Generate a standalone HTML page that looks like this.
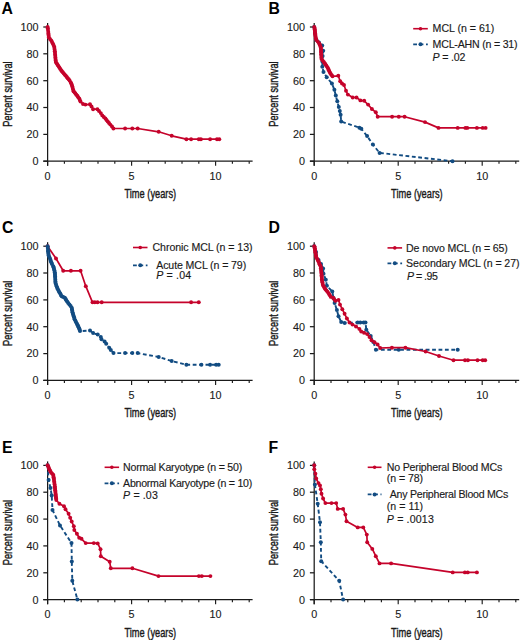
<!DOCTYPE html>
<html><head><meta charset="utf-8"><style>
html,body{margin:0;padding:0;background:#fff;overflow:hidden;}
svg{display:block;}
.tk{font-family:"Liberation Sans",sans-serif;font-size:10.8px;fill:#1a1a1a;stroke:#1a1a1a;stroke-width:0.12px;}
.ti{font-family:"Liberation Sans",sans-serif;font-size:13px;fill:#1a1a1a;stroke:#1a1a1a;stroke-width:0.4px;}
.lg{font-family:"Liberation Sans",sans-serif;font-size:10.6px;fill:#1a1a1a;stroke:#1a1a1a;stroke-width:0.15px;}
.pl{font-family:"Liberation Sans",sans-serif;font-size:15.8px;font-weight:bold;fill:#000;}
</style></head><body>
<svg width="520" height="640" viewBox="0 0 520 640">
<rect width="520" height="640" fill="#fff"/>
<line x1="47.6" y1="23.0" x2="47.6" y2="165.8" stroke="#1a1a1a" stroke-width="1.25"/>
<line x1="43.3" y1="161.2" x2="252.6" y2="161.2" stroke="#1a1a1a" stroke-width="1.25"/>
<line x1="43.3" y1="161.2" x2="47.6" y2="161.2" stroke="#1a1a1a" stroke-width="1.25"/>
<text x="38.5" y="165.0" class="tk" text-anchor="end">0</text>
<line x1="43.3" y1="134.4" x2="47.6" y2="134.4" stroke="#1a1a1a" stroke-width="1.25"/>
<text x="38.5" y="138.2" class="tk" text-anchor="end">20</text>
<line x1="43.3" y1="107.5" x2="47.6" y2="107.5" stroke="#1a1a1a" stroke-width="1.25"/>
<text x="38.5" y="111.4" class="tk" text-anchor="end">40</text>
<line x1="43.3" y1="80.7" x2="47.6" y2="80.7" stroke="#1a1a1a" stroke-width="1.25"/>
<text x="38.5" y="84.5" class="tk" text-anchor="end">60</text>
<line x1="43.3" y1="53.8" x2="47.6" y2="53.8" stroke="#1a1a1a" stroke-width="1.25"/>
<text x="38.5" y="57.7" class="tk" text-anchor="end">80</text>
<line x1="43.3" y1="27.0" x2="47.6" y2="27.0" stroke="#1a1a1a" stroke-width="1.25"/>
<text x="38.5" y="30.8" class="tk" text-anchor="end">100</text>
<line x1="47.6" y1="161.2" x2="47.6" y2="165.8" stroke="#1a1a1a" stroke-width="1.15"/>
<text x="47.6" y="179.8" class="tk" text-anchor="middle">0</text>
<line x1="64.4" y1="161.2" x2="64.4" y2="163.8" stroke="#1a1a1a" stroke-width="1.15"/>
<line x1="81.2" y1="161.2" x2="81.2" y2="163.8" stroke="#1a1a1a" stroke-width="1.15"/>
<line x1="98.0" y1="161.2" x2="98.0" y2="163.8" stroke="#1a1a1a" stroke-width="1.15"/>
<line x1="114.8" y1="161.2" x2="114.8" y2="163.8" stroke="#1a1a1a" stroke-width="1.15"/>
<line x1="131.6" y1="161.2" x2="131.6" y2="165.8" stroke="#1a1a1a" stroke-width="1.15"/>
<text x="131.6" y="179.8" class="tk" text-anchor="middle">5</text>
<line x1="148.4" y1="161.2" x2="148.4" y2="163.8" stroke="#1a1a1a" stroke-width="1.15"/>
<line x1="165.2" y1="161.2" x2="165.2" y2="163.8" stroke="#1a1a1a" stroke-width="1.15"/>
<line x1="182.0" y1="161.2" x2="182.0" y2="163.8" stroke="#1a1a1a" stroke-width="1.15"/>
<line x1="198.8" y1="161.2" x2="198.8" y2="163.8" stroke="#1a1a1a" stroke-width="1.15"/>
<line x1="215.6" y1="161.2" x2="215.6" y2="165.8" stroke="#1a1a1a" stroke-width="1.15"/>
<text x="215.6" y="179.8" class="tk" text-anchor="middle">10</text>
<line x1="232.4" y1="161.2" x2="232.4" y2="163.8" stroke="#1a1a1a" stroke-width="1.15"/>
<line x1="249.2" y1="161.2" x2="249.2" y2="163.8" stroke="#1a1a1a" stroke-width="1.15"/>
<text x="150.3" y="198.2" class="ti" text-anchor="middle" textLength="51.6" lengthAdjust="spacingAndGlyphs">Time (years)</text>
<text transform="translate(11.5,94.1) rotate(-90)" x="0" y="0" class="ti" text-anchor="middle" textLength="65.3" lengthAdjust="spacingAndGlyphs">Percent survival</text>
<polyline points="47.6,27.0 47.8,28.2 48.3,32.0 48.8,37.4 50.0,39.0 51.2,40.5 52.8,43.5 54.2,46.6 55.0,52.8 55.4,57.5 55.8,62.0 57.3,64.3 58.8,66.6 60.3,68.9 61.9,71.2 63.8,73.5 65.8,75.8 67.7,78.2 69.6,80.5 70.8,82.5 71.9,85.0 72.7,88.0 73.5,91.2 75.4,93.5 77.3,95.8 79.2,98.5 80.5,101.5 83.0,104.0 85.4,104.6 90.0,104.3 91.5,106.5 93.1,109.2 97.4,109.2 99.0,111.0 100.8,113.1 102.3,115.4 103.8,117.0 105.4,118.5 106.5,120.0 107.7,121.5 109.0,123.0 110.3,124.6 112.0,126.5 113.4,128.5 125.1,128.5 132.3,128.5 137.7,128.5 158.7,131.8 171.7,135.8 186.4,139.2 191.1,139.2 198.8,139.2 200.9,139.2 210.1,139.2 217.0,139.2 219.3,139.2" fill="none" stroke="#c5032b" stroke-width="1.7" stroke-linejoin="round"/>
<g fill="#c5032b"><circle cx="47.6" cy="27.0" r="1.95"/><circle cx="47.8" cy="28.2" r="1.95"/><circle cx="48.0" cy="30.1" r="1.95"/><circle cx="48.3" cy="32.0" r="1.95"/><circle cx="48.4" cy="33.4" r="1.95"/><circle cx="48.5" cy="34.7" r="1.95"/><circle cx="48.7" cy="36.0" r="1.95"/><circle cx="48.8" cy="37.4" r="1.95"/><circle cx="50.0" cy="39.0" r="1.95"/><circle cx="51.2" cy="40.5" r="1.95"/><circle cx="52.0" cy="42.0" r="1.95"/><circle cx="52.8" cy="43.5" r="1.95"/><circle cx="53.5" cy="45.0" r="1.95"/><circle cx="54.2" cy="46.6" r="1.95"/><circle cx="54.4" cy="48.1" r="1.95"/><circle cx="54.6" cy="49.7" r="1.95"/><circle cx="54.8" cy="51.2" r="1.95"/><circle cx="55.0" cy="52.8" r="1.95"/><circle cx="55.1" cy="54.4" r="1.95"/><circle cx="55.3" cy="55.9" r="1.95"/><circle cx="55.4" cy="57.5" r="1.95"/><circle cx="55.5" cy="59.0" r="1.95"/><circle cx="55.7" cy="60.5" r="1.95"/><circle cx="55.8" cy="62.0" r="1.95"/><circle cx="56.5" cy="63.1" r="1.95"/><circle cx="57.3" cy="64.3" r="1.95"/><circle cx="58.0" cy="65.4" r="1.95"/><circle cx="58.8" cy="66.6" r="1.95"/><circle cx="59.5" cy="67.8" r="1.95"/><circle cx="60.3" cy="68.9" r="1.95"/><circle cx="61.1" cy="70.1" r="1.95"/><circle cx="61.9" cy="71.2" r="1.95"/><circle cx="62.8" cy="72.3" r="1.95"/><circle cx="63.8" cy="73.5" r="1.95"/><circle cx="64.8" cy="74.7" r="1.95"/><circle cx="65.8" cy="75.8" r="1.95"/><circle cx="66.8" cy="77.0" r="1.95"/><circle cx="67.7" cy="78.2" r="1.95"/><circle cx="68.7" cy="79.3" r="1.95"/><circle cx="69.6" cy="80.5" r="1.95"/><circle cx="70.8" cy="82.5" r="1.95"/><circle cx="71.3" cy="83.8" r="1.95"/><circle cx="71.9" cy="85.0" r="1.95"/><circle cx="72.3" cy="86.5" r="1.95"/><circle cx="72.7" cy="88.0" r="1.95"/><circle cx="73.1" cy="89.6" r="1.95"/><circle cx="73.5" cy="91.2" r="1.95"/><circle cx="74.5" cy="92.3" r="1.95"/><circle cx="75.4" cy="93.5" r="1.95"/><circle cx="76.3" cy="94.7" r="1.95"/><circle cx="77.3" cy="95.8" r="1.95"/><circle cx="78.2" cy="97.2" r="1.95"/><circle cx="79.2" cy="98.5" r="1.95"/><circle cx="79.8" cy="100.0" r="1.95"/><circle cx="80.5" cy="101.5" r="1.95"/><circle cx="83.0" cy="104.0" r="1.95"/><circle cx="85.4" cy="104.6" r="1.95"/><circle cx="90.0" cy="104.3" r="1.95"/><circle cx="91.5" cy="106.5" r="1.95"/><circle cx="93.1" cy="109.2" r="1.95"/><circle cx="97.4" cy="109.2" r="1.95"/><circle cx="99.0" cy="111.0" r="1.95"/><circle cx="100.8" cy="113.1" r="1.95"/><circle cx="102.3" cy="115.4" r="1.95"/><circle cx="103.8" cy="117.0" r="1.95"/><circle cx="105.4" cy="118.5" r="1.95"/><circle cx="106.5" cy="120.0" r="1.95"/><circle cx="107.7" cy="121.5" r="1.95"/><circle cx="109.0" cy="123.0" r="1.95"/><circle cx="110.3" cy="124.6" r="1.95"/><circle cx="112.0" cy="126.5" r="1.95"/><circle cx="113.4" cy="128.5" r="1.95"/><circle cx="125.1" cy="128.5" r="1.95"/><circle cx="132.3" cy="128.5" r="1.95"/><circle cx="137.7" cy="128.5" r="1.95"/><circle cx="158.7" cy="131.8" r="1.95"/><circle cx="171.7" cy="135.8" r="1.95"/><circle cx="186.4" cy="139.2" r="1.95"/><circle cx="191.1" cy="139.2" r="1.95"/><circle cx="198.8" cy="139.2" r="1.95"/><circle cx="200.9" cy="139.2" r="1.95"/><circle cx="210.1" cy="139.2" r="1.95"/><circle cx="217.0" cy="139.2" r="1.95"/><circle cx="219.3" cy="139.2" r="1.95"/></g>
<text x="1.6" y="14.4" class="pl">A</text>
<line x1="314.2" y1="23.0" x2="314.2" y2="165.8" stroke="#1a1a1a" stroke-width="1.25"/>
<line x1="309.9" y1="161.2" x2="519.2" y2="161.2" stroke="#1a1a1a" stroke-width="1.25"/>
<line x1="309.9" y1="161.2" x2="314.2" y2="161.2" stroke="#1a1a1a" stroke-width="1.25"/>
<text x="305.1" y="165.0" class="tk" text-anchor="end">0</text>
<line x1="309.9" y1="134.4" x2="314.2" y2="134.4" stroke="#1a1a1a" stroke-width="1.25"/>
<text x="305.1" y="138.2" class="tk" text-anchor="end">20</text>
<line x1="309.9" y1="107.5" x2="314.2" y2="107.5" stroke="#1a1a1a" stroke-width="1.25"/>
<text x="305.1" y="111.4" class="tk" text-anchor="end">40</text>
<line x1="309.9" y1="80.7" x2="314.2" y2="80.7" stroke="#1a1a1a" stroke-width="1.25"/>
<text x="305.1" y="84.5" class="tk" text-anchor="end">60</text>
<line x1="309.9" y1="53.8" x2="314.2" y2="53.8" stroke="#1a1a1a" stroke-width="1.25"/>
<text x="305.1" y="57.7" class="tk" text-anchor="end">80</text>
<line x1="309.9" y1="27.0" x2="314.2" y2="27.0" stroke="#1a1a1a" stroke-width="1.25"/>
<text x="305.1" y="30.8" class="tk" text-anchor="end">100</text>
<line x1="314.2" y1="161.2" x2="314.2" y2="165.8" stroke="#1a1a1a" stroke-width="1.15"/>
<text x="314.2" y="179.8" class="tk" text-anchor="middle">0</text>
<line x1="331.0" y1="161.2" x2="331.0" y2="163.8" stroke="#1a1a1a" stroke-width="1.15"/>
<line x1="347.8" y1="161.2" x2="347.8" y2="163.8" stroke="#1a1a1a" stroke-width="1.15"/>
<line x1="364.6" y1="161.2" x2="364.6" y2="163.8" stroke="#1a1a1a" stroke-width="1.15"/>
<line x1="381.4" y1="161.2" x2="381.4" y2="163.8" stroke="#1a1a1a" stroke-width="1.15"/>
<line x1="398.2" y1="161.2" x2="398.2" y2="165.8" stroke="#1a1a1a" stroke-width="1.15"/>
<text x="398.2" y="179.8" class="tk" text-anchor="middle">5</text>
<line x1="415.0" y1="161.2" x2="415.0" y2="163.8" stroke="#1a1a1a" stroke-width="1.15"/>
<line x1="431.8" y1="161.2" x2="431.8" y2="163.8" stroke="#1a1a1a" stroke-width="1.15"/>
<line x1="448.6" y1="161.2" x2="448.6" y2="163.8" stroke="#1a1a1a" stroke-width="1.15"/>
<line x1="465.4" y1="161.2" x2="465.4" y2="163.8" stroke="#1a1a1a" stroke-width="1.15"/>
<line x1="482.2" y1="161.2" x2="482.2" y2="165.8" stroke="#1a1a1a" stroke-width="1.15"/>
<text x="482.2" y="179.8" class="tk" text-anchor="middle">10</text>
<line x1="499.0" y1="161.2" x2="499.0" y2="163.8" stroke="#1a1a1a" stroke-width="1.15"/>
<line x1="515.8" y1="161.2" x2="515.8" y2="163.8" stroke="#1a1a1a" stroke-width="1.15"/>
<text x="416.9" y="198.2" class="ti" text-anchor="middle" textLength="51.6" lengthAdjust="spacingAndGlyphs">Time (years)</text>
<text transform="translate(278.1,94.1) rotate(-90)" x="0" y="0" class="ti" text-anchor="middle" textLength="65.3" lengthAdjust="spacingAndGlyphs">Percent survival</text>
<polyline points="314.2,27.0 315.0,33.0 316.5,40.0 319.0,42.5 322.2,45.5 323.2,50.8 322.6,56.0 322.4,61.5 322.3,66.7 323.5,71.9 326.7,77.3 331.9,83.5 334.4,89.8 335.8,95.6 337.3,101.3 338.8,107.1 339.8,111.0 340.6,114.8 341.2,121.5 359.4,127.7 361.3,128.8 367.1,136.0 372.9,144.6 379.6,152.9 452.5,161.2" fill="none" stroke="#124c82" stroke-width="1.9" stroke-linejoin="round" stroke-dasharray="3.8 2.6"/>
<g fill="#124c82"><circle cx="314.2" cy="27.0" r="2.0"/><circle cx="315.0" cy="33.0" r="2.0"/><circle cx="316.5" cy="40.0" r="2.0"/><circle cx="319.0" cy="42.5" r="2.0"/><circle cx="322.2" cy="45.5" r="2.0"/><circle cx="323.2" cy="50.8" r="2.0"/><circle cx="322.6" cy="56.0" r="2.0"/><circle cx="322.4" cy="61.5" r="2.0"/><circle cx="322.3" cy="66.7" r="2.0"/><circle cx="323.5" cy="71.9" r="2.0"/><circle cx="326.7" cy="77.3" r="2.0"/><circle cx="331.9" cy="83.5" r="2.0"/><circle cx="334.4" cy="89.8" r="2.0"/><circle cx="335.8" cy="95.6" r="2.0"/><circle cx="337.3" cy="101.3" r="2.0"/><circle cx="338.8" cy="107.1" r="2.0"/><circle cx="339.8" cy="111.0" r="2.0"/><circle cx="340.6" cy="114.8" r="2.0"/><circle cx="341.2" cy="121.5" r="2.0"/><circle cx="359.4" cy="127.7" r="2.0"/><circle cx="361.3" cy="128.8" r="2.0"/><circle cx="367.1" cy="136.0" r="2.0"/><circle cx="372.9" cy="144.6" r="2.0"/><circle cx="379.6" cy="152.9" r="2.0"/><circle cx="452.5" cy="161.2" r="2.0"/></g>
<polyline points="314.2,27.0 314.6,28.0 315.4,35.8 316.2,39.7 317.7,41.6 319.2,43.5 320.8,47.4 321.1,52.8 321.5,58.9 323.8,62.0 325.4,64.3 327.7,67.7 330.0,72.8 332.5,76.3 338.3,75.8 340.2,81.2 342.0,83.5 344.0,85.0 346.0,90.8 347.9,94.6 352.7,97.5 356.5,97.5 360.4,100.4 364.2,100.8 368.1,104.6 371.9,109.0 375.8,112.3 377.7,116.7 392.1,116.7 398.8,116.7 404.6,116.7 425.0,122.1 438.5,127.9 457.7,127.9 465.4,127.9 467.3,127.9 476.9,127.9 482.7,127.9 485.6,127.9" fill="none" stroke="#c5032b" stroke-width="1.7" stroke-linejoin="round"/>
<g fill="#c5032b"><circle cx="314.2" cy="27.0" r="1.95"/><circle cx="314.6" cy="28.0" r="1.95"/><circle cx="314.7" cy="29.3" r="1.95"/><circle cx="314.9" cy="30.6" r="1.95"/><circle cx="315.0" cy="31.9" r="1.95"/><circle cx="315.1" cy="33.2" r="1.95"/><circle cx="315.3" cy="34.5" r="1.95"/><circle cx="315.4" cy="35.8" r="1.95"/><circle cx="315.7" cy="37.1" r="1.95"/><circle cx="315.9" cy="38.4" r="1.95"/><circle cx="316.2" cy="39.7" r="1.95"/><circle cx="317.7" cy="41.6" r="1.95"/><circle cx="319.2" cy="43.5" r="1.95"/><circle cx="319.7" cy="44.8" r="1.95"/><circle cx="320.3" cy="46.1" r="1.95"/><circle cx="320.8" cy="47.4" r="1.95"/><circle cx="320.9" cy="48.8" r="1.95"/><circle cx="321.0" cy="50.1" r="1.95"/><circle cx="321.0" cy="51.4" r="1.95"/><circle cx="321.1" cy="52.8" r="1.95"/><circle cx="321.2" cy="54.3" r="1.95"/><circle cx="321.3" cy="55.8" r="1.95"/><circle cx="321.4" cy="57.4" r="1.95"/><circle cx="321.5" cy="58.9" r="1.95"/><circle cx="322.6" cy="60.5" r="1.95"/><circle cx="323.8" cy="62.0" r="1.95"/><circle cx="324.6" cy="63.1" r="1.95"/><circle cx="325.4" cy="64.3" r="1.95"/><circle cx="326.2" cy="65.4" r="1.95"/><circle cx="326.9" cy="66.6" r="1.95"/><circle cx="327.7" cy="67.7" r="1.95"/><circle cx="328.3" cy="69.0" r="1.95"/><circle cx="328.9" cy="70.2" r="1.95"/><circle cx="329.4" cy="71.5" r="1.95"/><circle cx="330.0" cy="72.8" r="1.95"/><circle cx="330.8" cy="74.0" r="1.95"/><circle cx="331.7" cy="75.1" r="1.95"/><circle cx="332.5" cy="76.3" r="1.95"/><circle cx="338.3" cy="75.8" r="1.95"/><circle cx="340.2" cy="81.2" r="1.95"/><circle cx="342.0" cy="83.5" r="1.95"/><circle cx="344.0" cy="85.0" r="1.95"/><circle cx="346.0" cy="90.8" r="1.95"/><circle cx="347.9" cy="94.6" r="1.95"/><circle cx="352.7" cy="97.5" r="1.95"/><circle cx="356.5" cy="97.5" r="1.95"/><circle cx="360.4" cy="100.4" r="1.95"/><circle cx="364.2" cy="100.8" r="1.95"/><circle cx="368.1" cy="104.6" r="1.95"/><circle cx="371.9" cy="109.0" r="1.95"/><circle cx="375.8" cy="112.3" r="1.95"/><circle cx="377.7" cy="116.7" r="1.95"/><circle cx="392.1" cy="116.7" r="1.95"/><circle cx="398.8" cy="116.7" r="1.95"/><circle cx="404.6" cy="116.7" r="1.95"/><circle cx="425.0" cy="122.1" r="1.95"/><circle cx="438.5" cy="127.9" r="1.95"/><circle cx="457.7" cy="127.9" r="1.95"/><circle cx="465.4" cy="127.9" r="1.95"/><circle cx="467.3" cy="127.9" r="1.95"/><circle cx="476.9" cy="127.9" r="1.95"/><circle cx="482.7" cy="127.9" r="1.95"/><circle cx="485.6" cy="127.9" r="1.95"/></g>
<line x1="413.2" y1="28.7" x2="427.8" y2="28.7" stroke="#c5032b" stroke-width="1.6"/>
<circle cx="420.5" cy="28.7" r="1.8" fill="#c5032b"/>
<line x1="413.2" y1="44.3" x2="427.8" y2="44.3" stroke="#124c82" stroke-width="1.7" stroke-dasharray="3.8 2.6"/>
<circle cx="420.5" cy="44.3" r="2.0" fill="#124c82"/>
<text x="432.6" y="32.3" class="lg" textLength="61.6">MCL (n = 61)</text>
<text x="432.6" y="47.9" class="lg" textLength="85">MCL-AHN (n = 31)</text>
<text x="432.6" y="60.6" class="lg" textLength="32.7"><tspan font-style="italic">P</tspan> = .02</text>
<text x="268.6" y="14.4" class="pl">B</text>
<line x1="47.6" y1="242.2" x2="47.6" y2="385.0" stroke="#1a1a1a" stroke-width="1.25"/>
<line x1="43.3" y1="380.4" x2="252.6" y2="380.4" stroke="#1a1a1a" stroke-width="1.25"/>
<line x1="43.3" y1="380.4" x2="47.6" y2="380.4" stroke="#1a1a1a" stroke-width="1.25"/>
<text x="38.5" y="384.2" class="tk" text-anchor="end">0</text>
<line x1="43.3" y1="353.6" x2="47.6" y2="353.6" stroke="#1a1a1a" stroke-width="1.25"/>
<text x="38.5" y="357.4" class="tk" text-anchor="end">20</text>
<line x1="43.3" y1="326.7" x2="47.6" y2="326.7" stroke="#1a1a1a" stroke-width="1.25"/>
<text x="38.5" y="330.6" class="tk" text-anchor="end">40</text>
<line x1="43.3" y1="299.9" x2="47.6" y2="299.9" stroke="#1a1a1a" stroke-width="1.25"/>
<text x="38.5" y="303.7" class="tk" text-anchor="end">60</text>
<line x1="43.3" y1="273.0" x2="47.6" y2="273.0" stroke="#1a1a1a" stroke-width="1.25"/>
<text x="38.5" y="276.9" class="tk" text-anchor="end">80</text>
<line x1="43.3" y1="246.2" x2="47.6" y2="246.2" stroke="#1a1a1a" stroke-width="1.25"/>
<text x="38.5" y="250.0" class="tk" text-anchor="end">100</text>
<line x1="47.6" y1="380.4" x2="47.6" y2="385.0" stroke="#1a1a1a" stroke-width="1.15"/>
<text x="47.6" y="399.0" class="tk" text-anchor="middle">0</text>
<line x1="64.4" y1="380.4" x2="64.4" y2="383.0" stroke="#1a1a1a" stroke-width="1.15"/>
<line x1="81.2" y1="380.4" x2="81.2" y2="383.0" stroke="#1a1a1a" stroke-width="1.15"/>
<line x1="98.0" y1="380.4" x2="98.0" y2="383.0" stroke="#1a1a1a" stroke-width="1.15"/>
<line x1="114.8" y1="380.4" x2="114.8" y2="383.0" stroke="#1a1a1a" stroke-width="1.15"/>
<line x1="131.6" y1="380.4" x2="131.6" y2="385.0" stroke="#1a1a1a" stroke-width="1.15"/>
<text x="131.6" y="399.0" class="tk" text-anchor="middle">5</text>
<line x1="148.4" y1="380.4" x2="148.4" y2="383.0" stroke="#1a1a1a" stroke-width="1.15"/>
<line x1="165.2" y1="380.4" x2="165.2" y2="383.0" stroke="#1a1a1a" stroke-width="1.15"/>
<line x1="182.0" y1="380.4" x2="182.0" y2="383.0" stroke="#1a1a1a" stroke-width="1.15"/>
<line x1="198.8" y1="380.4" x2="198.8" y2="383.0" stroke="#1a1a1a" stroke-width="1.15"/>
<line x1="215.6" y1="380.4" x2="215.6" y2="385.0" stroke="#1a1a1a" stroke-width="1.15"/>
<text x="215.6" y="399.0" class="tk" text-anchor="middle">10</text>
<line x1="232.4" y1="380.4" x2="232.4" y2="383.0" stroke="#1a1a1a" stroke-width="1.15"/>
<line x1="249.2" y1="380.4" x2="249.2" y2="383.0" stroke="#1a1a1a" stroke-width="1.15"/>
<text x="150.3" y="417.4" class="ti" text-anchor="middle" textLength="51.6" lengthAdjust="spacingAndGlyphs">Time (years)</text>
<text transform="translate(11.5,313.3) rotate(-90)" x="0" y="0" class="ti" text-anchor="middle" textLength="65.3" lengthAdjust="spacingAndGlyphs">Percent survival</text>
<polyline points="47.6,246.2 56.0,258.5 63.2,270.8 70.9,270.8 80.6,270.8 85.8,286.2 92.5,302.3 94.8,302.3 97.5,302.3 101.7,302.3 191.1,302.3 198.8,302.3" fill="none" stroke="#c5032b" stroke-width="1.7" stroke-linejoin="round"/>
<g fill="#c5032b"><circle cx="47.6" cy="246.2" r="1.95"/><circle cx="56.0" cy="258.5" r="1.95"/><circle cx="63.2" cy="270.8" r="1.95"/><circle cx="70.9" cy="270.8" r="1.95"/><circle cx="80.6" cy="270.8" r="1.95"/><circle cx="85.8" cy="286.2" r="1.95"/><circle cx="92.5" cy="302.3" r="1.95"/><circle cx="94.8" cy="302.3" r="1.95"/><circle cx="97.5" cy="302.3" r="1.95"/><circle cx="101.7" cy="302.3" r="1.95"/><circle cx="191.1" cy="302.3" r="1.95"/><circle cx="198.8" cy="302.3" r="1.95"/></g>
<polyline points="47.6,246.2 48.0,250.0 48.6,255.4 50.0,258.5 50.9,261.5 52.0,264.0 53.2,266.2 54.0,269.0 54.8,272.3 55.2,278.0 55.5,283.1 57.1,287.7 59.4,292.3 61.7,296.2 64.8,297.7 67.1,301.5 69.4,304.6 71.7,307.7 72.5,312.3 74.6,319.2 76.9,323.8 79.2,328.5 80.0,331.1 90.0,330.5 93.1,333.1 97.7,334.6 100.8,336.9 101.5,339.2 104.6,341.5 106.2,343.8 109.2,347.7 110.8,350.0 113.5,353.1 125.1,353.1 132.3,353.1 137.7,353.1 158.7,357.0 171.7,361.0 186.4,364.8 201.4,364.8 210.1,364.8 216.1,364.8 218.7,364.8" fill="none" stroke="#124c82" stroke-width="1.9" stroke-linejoin="round" stroke-dasharray="3.8 2.6"/>
<g fill="#124c82"><circle cx="47.6" cy="246.2" r="2.0"/><circle cx="47.8" cy="248.1" r="2.0"/><circle cx="48.0" cy="250.0" r="2.0"/><circle cx="48.1" cy="251.3" r="2.0"/><circle cx="48.3" cy="252.7" r="2.0"/><circle cx="48.5" cy="254.1" r="2.0"/><circle cx="48.6" cy="255.4" r="2.0"/><circle cx="49.3" cy="256.9" r="2.0"/><circle cx="50.0" cy="258.5" r="2.0"/><circle cx="50.5" cy="260.0" r="2.0"/><circle cx="50.9" cy="261.5" r="2.0"/><circle cx="51.5" cy="262.8" r="2.0"/><circle cx="52.0" cy="264.0" r="2.0"/><circle cx="53.2" cy="266.2" r="2.0"/><circle cx="53.6" cy="267.6" r="2.0"/><circle cx="54.0" cy="269.0" r="2.0"/><circle cx="54.4" cy="270.6" r="2.0"/><circle cx="54.8" cy="272.3" r="2.0"/><circle cx="54.9" cy="273.7" r="2.0"/><circle cx="55.0" cy="275.1" r="2.0"/><circle cx="55.1" cy="276.6" r="2.0"/><circle cx="55.2" cy="278.0" r="2.0"/><circle cx="55.3" cy="279.7" r="2.0"/><circle cx="55.4" cy="281.4" r="2.0"/><circle cx="55.5" cy="283.1" r="2.0"/><circle cx="56.0" cy="284.6" r="2.0"/><circle cx="56.6" cy="286.2" r="2.0"/><circle cx="57.1" cy="287.7" r="2.0"/><circle cx="57.9" cy="289.2" r="2.0"/><circle cx="58.6" cy="290.8" r="2.0"/><circle cx="59.4" cy="292.3" r="2.0"/><circle cx="60.2" cy="293.6" r="2.0"/><circle cx="60.9" cy="294.9" r="2.0"/><circle cx="61.7" cy="296.2" r="2.0"/><circle cx="63.2" cy="296.9" r="2.0"/><circle cx="64.8" cy="297.7" r="2.0"/><circle cx="65.6" cy="299.0" r="2.0"/><circle cx="66.3" cy="300.2" r="2.0"/><circle cx="67.1" cy="301.5" r="2.0"/><circle cx="68.2" cy="303.1" r="2.0"/><circle cx="69.4" cy="304.6" r="2.0"/><circle cx="70.6" cy="306.1" r="2.0"/><circle cx="71.7" cy="307.7" r="2.0"/><circle cx="72.0" cy="309.2" r="2.0"/><circle cx="72.2" cy="310.8" r="2.0"/><circle cx="72.5" cy="312.3" r="2.0"/><circle cx="72.9" cy="313.7" r="2.0"/><circle cx="73.3" cy="315.1" r="2.0"/><circle cx="73.8" cy="316.4" r="2.0"/><circle cx="74.2" cy="317.8" r="2.0"/><circle cx="74.6" cy="319.2" r="2.0"/><circle cx="75.4" cy="320.7" r="2.0"/><circle cx="76.1" cy="322.3" r="2.0"/><circle cx="76.9" cy="323.8" r="2.0"/><circle cx="77.5" cy="325.0" r="2.0"/><circle cx="78.1" cy="326.1" r="2.0"/><circle cx="78.6" cy="327.3" r="2.0"/><circle cx="79.2" cy="328.5" r="2.0"/><circle cx="79.6" cy="329.8" r="2.0"/><circle cx="80.0" cy="331.1" r="2.0"/><circle cx="90.0" cy="330.5" r="2.0"/><circle cx="93.1" cy="333.1" r="2.0"/><circle cx="97.7" cy="334.6" r="2.0"/><circle cx="100.8" cy="336.9" r="2.0"/><circle cx="101.5" cy="339.2" r="2.0"/><circle cx="104.6" cy="341.5" r="2.0"/><circle cx="106.2" cy="343.8" r="2.0"/><circle cx="109.2" cy="347.7" r="2.0"/><circle cx="110.8" cy="350.0" r="2.0"/><circle cx="113.5" cy="353.1" r="2.0"/><circle cx="125.1" cy="353.1" r="2.0"/><circle cx="132.3" cy="353.1" r="2.0"/><circle cx="137.7" cy="353.1" r="2.0"/><circle cx="158.7" cy="357.0" r="2.0"/><circle cx="171.7" cy="361.0" r="2.0"/><circle cx="186.4" cy="364.8" r="2.0"/><circle cx="201.4" cy="364.8" r="2.0"/><circle cx="210.1" cy="364.8" r="2.0"/><circle cx="216.1" cy="364.8" r="2.0"/><circle cx="218.7" cy="364.8" r="2.0"/></g>
<line x1="133" y1="247.5" x2="147.5" y2="247.5" stroke="#c5032b" stroke-width="1.6"/>
<circle cx="140.25" cy="247.5" r="1.8" fill="#c5032b"/>
<line x1="133" y1="265.3" x2="147.5" y2="265.3" stroke="#124c82" stroke-width="1.7" stroke-dasharray="3.8 2.6"/>
<circle cx="140.25" cy="265.3" r="2.0" fill="#124c82"/>
<text x="152.5" y="251.1" class="lg" textLength="100">Chronic MCL (n = 13)</text>
<text x="156.2" y="268.9" class="lg" textLength="90">Acute MCL (n = 79)</text>
<text x="156.2" y="279.0" class="lg" textLength="35"><tspan font-style="italic">P</tspan> =  .04</text>
<text x="1.9" y="233.4" class="pl">C</text>
<line x1="314.2" y1="242.2" x2="314.2" y2="385.0" stroke="#1a1a1a" stroke-width="1.25"/>
<line x1="309.9" y1="380.4" x2="519.2" y2="380.4" stroke="#1a1a1a" stroke-width="1.25"/>
<line x1="309.9" y1="380.4" x2="314.2" y2="380.4" stroke="#1a1a1a" stroke-width="1.25"/>
<text x="305.1" y="384.2" class="tk" text-anchor="end">0</text>
<line x1="309.9" y1="353.6" x2="314.2" y2="353.6" stroke="#1a1a1a" stroke-width="1.25"/>
<text x="305.1" y="357.4" class="tk" text-anchor="end">20</text>
<line x1="309.9" y1="326.7" x2="314.2" y2="326.7" stroke="#1a1a1a" stroke-width="1.25"/>
<text x="305.1" y="330.6" class="tk" text-anchor="end">40</text>
<line x1="309.9" y1="299.9" x2="314.2" y2="299.9" stroke="#1a1a1a" stroke-width="1.25"/>
<text x="305.1" y="303.7" class="tk" text-anchor="end">60</text>
<line x1="309.9" y1="273.0" x2="314.2" y2="273.0" stroke="#1a1a1a" stroke-width="1.25"/>
<text x="305.1" y="276.9" class="tk" text-anchor="end">80</text>
<line x1="309.9" y1="246.2" x2="314.2" y2="246.2" stroke="#1a1a1a" stroke-width="1.25"/>
<text x="305.1" y="250.0" class="tk" text-anchor="end">100</text>
<line x1="314.2" y1="380.4" x2="314.2" y2="385.0" stroke="#1a1a1a" stroke-width="1.15"/>
<text x="314.2" y="399.0" class="tk" text-anchor="middle">0</text>
<line x1="331.0" y1="380.4" x2="331.0" y2="383.0" stroke="#1a1a1a" stroke-width="1.15"/>
<line x1="347.8" y1="380.4" x2="347.8" y2="383.0" stroke="#1a1a1a" stroke-width="1.15"/>
<line x1="364.6" y1="380.4" x2="364.6" y2="383.0" stroke="#1a1a1a" stroke-width="1.15"/>
<line x1="381.4" y1="380.4" x2="381.4" y2="383.0" stroke="#1a1a1a" stroke-width="1.15"/>
<line x1="398.2" y1="380.4" x2="398.2" y2="385.0" stroke="#1a1a1a" stroke-width="1.15"/>
<text x="398.2" y="399.0" class="tk" text-anchor="middle">5</text>
<line x1="415.0" y1="380.4" x2="415.0" y2="383.0" stroke="#1a1a1a" stroke-width="1.15"/>
<line x1="431.8" y1="380.4" x2="431.8" y2="383.0" stroke="#1a1a1a" stroke-width="1.15"/>
<line x1="448.6" y1="380.4" x2="448.6" y2="383.0" stroke="#1a1a1a" stroke-width="1.15"/>
<line x1="465.4" y1="380.4" x2="465.4" y2="383.0" stroke="#1a1a1a" stroke-width="1.15"/>
<line x1="482.2" y1="380.4" x2="482.2" y2="385.0" stroke="#1a1a1a" stroke-width="1.15"/>
<text x="482.2" y="399.0" class="tk" text-anchor="middle">10</text>
<line x1="499.0" y1="380.4" x2="499.0" y2="383.0" stroke="#1a1a1a" stroke-width="1.15"/>
<line x1="515.8" y1="380.4" x2="515.8" y2="383.0" stroke="#1a1a1a" stroke-width="1.15"/>
<text x="416.9" y="417.4" class="ti" text-anchor="middle" textLength="51.6" lengthAdjust="spacingAndGlyphs">Time (years)</text>
<text transform="translate(278.1,313.3) rotate(-90)" x="0" y="0" class="ti" text-anchor="middle" textLength="65.3" lengthAdjust="spacingAndGlyphs">Percent survival</text>
<polyline points="314.2,246.2 316.0,252.0 318.5,260.0 321.0,264.0 323.1,268.5 323.5,273.8 325.8,279.7 326.9,285.8 332.3,291.5 333.5,298.0 334.6,303.1 336.9,310.0 338.5,316.2 341.2,322.0 344.7,322.9 357.7,322.5 360.3,322.5 363.7,322.5 365.5,322.5 366.3,329.8 370.7,335.9 373.3,341.9 375.9,349.7 398.7,349.8 457.7,349.8" fill="none" stroke="#124c82" stroke-width="1.9" stroke-linejoin="round" stroke-dasharray="3.8 2.6"/>
<g fill="#124c82"><circle cx="314.2" cy="246.2" r="2.0"/><circle cx="316.0" cy="252.0" r="2.0"/><circle cx="318.5" cy="260.0" r="2.0"/><circle cx="321.0" cy="264.0" r="2.0"/><circle cx="323.1" cy="268.5" r="2.0"/><circle cx="323.5" cy="273.8" r="2.0"/><circle cx="325.8" cy="279.7" r="2.0"/><circle cx="326.9" cy="285.8" r="2.0"/><circle cx="332.3" cy="291.5" r="2.0"/><circle cx="333.5" cy="298.0" r="2.0"/><circle cx="334.6" cy="303.1" r="2.0"/><circle cx="336.9" cy="310.0" r="2.0"/><circle cx="338.5" cy="316.2" r="2.0"/><circle cx="341.2" cy="322.0" r="2.0"/><circle cx="344.7" cy="322.9" r="2.0"/><circle cx="357.7" cy="322.5" r="2.0"/><circle cx="360.3" cy="322.5" r="2.0"/><circle cx="363.7" cy="322.5" r="2.0"/><circle cx="365.5" cy="322.5" r="2.0"/><circle cx="366.3" cy="329.8" r="2.0"/><circle cx="370.7" cy="335.9" r="2.0"/><circle cx="373.3" cy="341.9" r="2.0"/><circle cx="375.9" cy="349.7" r="2.0"/><circle cx="398.7" cy="349.8" r="2.0"/><circle cx="457.7" cy="349.8" r="2.0"/></g>
<polyline points="314.2,246.2 314.6,246.9 315.4,252.3 316.2,256.9 318.5,261.5 320.8,266.9 321.5,273.8 322.0,280.8 323.1,285.4 325.4,289.2 328.5,293.1 330.8,296.9 333.1,297.7 335.4,300.8 338.5,300.0 340.0,304.6 342.3,309.2 344.6,313.8 346.9,318.5 349.5,322.5 352.5,324.6 356.0,326.5 359.4,328.9 361.2,331.5 364.0,332.8 367.2,334.1 369.5,337.0 371.5,340.2 374.5,342.3 377.6,344.5 380.2,348.0 391.9,347.7 405.4,347.7 425.6,351.5 439.0,356.0 453.5,360.2 465.0,360.2 467.9,360.2 477.5,360.2 482.7,360.2 485.2,360.2" fill="none" stroke="#c5032b" stroke-width="1.7" stroke-linejoin="round"/>
<g fill="#c5032b"><circle cx="314.2" cy="246.2" r="1.95"/><circle cx="314.6" cy="246.9" r="1.95"/><circle cx="314.8" cy="248.2" r="1.95"/><circle cx="315.0" cy="249.6" r="1.95"/><circle cx="315.2" cy="251.0" r="1.95"/><circle cx="315.4" cy="252.3" r="1.95"/><circle cx="315.7" cy="253.8" r="1.95"/><circle cx="315.9" cy="255.4" r="1.95"/><circle cx="316.2" cy="256.9" r="1.95"/><circle cx="317.0" cy="258.4" r="1.95"/><circle cx="317.7" cy="260.0" r="1.95"/><circle cx="318.5" cy="261.5" r="1.95"/><circle cx="319.1" cy="262.9" r="1.95"/><circle cx="319.6" cy="264.2" r="1.95"/><circle cx="320.2" cy="265.5" r="1.95"/><circle cx="320.8" cy="266.9" r="1.95"/><circle cx="320.9" cy="268.3" r="1.95"/><circle cx="321.1" cy="269.7" r="1.95"/><circle cx="321.2" cy="271.0" r="1.95"/><circle cx="321.4" cy="272.4" r="1.95"/><circle cx="321.5" cy="273.8" r="1.95"/><circle cx="321.6" cy="275.2" r="1.95"/><circle cx="321.7" cy="276.6" r="1.95"/><circle cx="321.8" cy="278.0" r="1.95"/><circle cx="321.9" cy="279.4" r="1.95"/><circle cx="322.0" cy="280.8" r="1.95"/><circle cx="322.4" cy="282.3" r="1.95"/><circle cx="322.7" cy="283.9" r="1.95"/><circle cx="323.1" cy="285.4" r="1.95"/><circle cx="323.9" cy="286.7" r="1.95"/><circle cx="324.6" cy="287.9" r="1.95"/><circle cx="325.4" cy="289.2" r="1.95"/><circle cx="326.4" cy="290.5" r="1.95"/><circle cx="327.5" cy="291.8" r="1.95"/><circle cx="328.5" cy="293.1" r="1.95"/><circle cx="329.3" cy="294.4" r="1.95"/><circle cx="330.0" cy="295.6" r="1.95"/><circle cx="330.8" cy="296.9" r="1.95"/><circle cx="333.1" cy="297.7" r="1.95"/><circle cx="334.2" cy="299.2" r="1.95"/><circle cx="335.4" cy="300.8" r="1.95"/><circle cx="338.5" cy="300.0" r="1.95"/><circle cx="340.0" cy="304.6" r="1.95"/><circle cx="342.3" cy="309.2" r="1.95"/><circle cx="344.6" cy="313.8" r="1.95"/><circle cx="346.9" cy="318.5" r="1.95"/><circle cx="349.5" cy="322.5" r="1.95"/><circle cx="352.5" cy="324.6" r="1.95"/><circle cx="356.0" cy="326.5" r="1.95"/><circle cx="359.4" cy="328.9" r="1.95"/><circle cx="361.2" cy="331.5" r="1.95"/><circle cx="364.0" cy="332.8" r="1.95"/><circle cx="367.2" cy="334.1" r="1.95"/><circle cx="369.5" cy="337.0" r="1.95"/><circle cx="371.5" cy="340.2" r="1.95"/><circle cx="374.5" cy="342.3" r="1.95"/><circle cx="377.6" cy="344.5" r="1.95"/><circle cx="380.2" cy="348.0" r="1.95"/><circle cx="391.9" cy="347.7" r="1.95"/><circle cx="405.4" cy="347.7" r="1.95"/><circle cx="425.6" cy="351.5" r="1.95"/><circle cx="439.0" cy="356.0" r="1.95"/><circle cx="453.5" cy="360.2" r="1.95"/><circle cx="465.0" cy="360.2" r="1.95"/><circle cx="467.9" cy="360.2" r="1.95"/><circle cx="477.5" cy="360.2" r="1.95"/><circle cx="482.7" cy="360.2" r="1.95"/><circle cx="485.2" cy="360.2" r="1.95"/></g>
<line x1="387.5" y1="247.9" x2="402.1" y2="247.9" stroke="#c5032b" stroke-width="1.6"/>
<circle cx="394.8" cy="247.9" r="1.8" fill="#c5032b"/>
<line x1="387.5" y1="263.3" x2="402.1" y2="263.3" stroke="#124c82" stroke-width="1.7" stroke-dasharray="3.8 2.6"/>
<circle cx="394.8" cy="263.3" r="2.0" fill="#124c82"/>
<text x="406.1" y="251.5" class="lg" textLength="101.8">De novo MCL (n = 65)</text>
<text x="406.1" y="266.9" class="lg" textLength="113.4">Secondary MCL (n = 27)</text>
<text x="406.9" y="280.3" class="lg" textLength="31"><tspan font-style="italic">P</tspan> = .95</text>
<text x="268.6" y="233.4" class="pl">D</text>
<line x1="47.6" y1="461.4" x2="47.6" y2="604.2" stroke="#1a1a1a" stroke-width="1.25"/>
<line x1="43.3" y1="599.6" x2="252.6" y2="599.6" stroke="#1a1a1a" stroke-width="1.25"/>
<line x1="43.3" y1="599.6" x2="47.6" y2="599.6" stroke="#1a1a1a" stroke-width="1.25"/>
<text x="38.5" y="603.5" class="tk" text-anchor="end">0</text>
<line x1="43.3" y1="572.8" x2="47.6" y2="572.8" stroke="#1a1a1a" stroke-width="1.25"/>
<text x="38.5" y="576.6" class="tk" text-anchor="end">20</text>
<line x1="43.3" y1="545.9" x2="47.6" y2="545.9" stroke="#1a1a1a" stroke-width="1.25"/>
<text x="38.5" y="549.8" class="tk" text-anchor="end">40</text>
<line x1="43.3" y1="519.1" x2="47.6" y2="519.1" stroke="#1a1a1a" stroke-width="1.25"/>
<text x="38.5" y="522.9" class="tk" text-anchor="end">60</text>
<line x1="43.3" y1="492.2" x2="47.6" y2="492.2" stroke="#1a1a1a" stroke-width="1.25"/>
<text x="38.5" y="496.1" class="tk" text-anchor="end">80</text>
<line x1="43.3" y1="465.4" x2="47.6" y2="465.4" stroke="#1a1a1a" stroke-width="1.25"/>
<text x="38.5" y="469.2" class="tk" text-anchor="end">100</text>
<line x1="47.6" y1="599.6" x2="47.6" y2="604.2" stroke="#1a1a1a" stroke-width="1.15"/>
<text x="47.6" y="618.2" class="tk" text-anchor="middle">0</text>
<line x1="64.4" y1="599.6" x2="64.4" y2="602.2" stroke="#1a1a1a" stroke-width="1.15"/>
<line x1="81.2" y1="599.6" x2="81.2" y2="602.2" stroke="#1a1a1a" stroke-width="1.15"/>
<line x1="98.0" y1="599.6" x2="98.0" y2="602.2" stroke="#1a1a1a" stroke-width="1.15"/>
<line x1="114.8" y1="599.6" x2="114.8" y2="602.2" stroke="#1a1a1a" stroke-width="1.15"/>
<line x1="131.6" y1="599.6" x2="131.6" y2="604.2" stroke="#1a1a1a" stroke-width="1.15"/>
<text x="131.6" y="618.2" class="tk" text-anchor="middle">5</text>
<line x1="148.4" y1="599.6" x2="148.4" y2="602.2" stroke="#1a1a1a" stroke-width="1.15"/>
<line x1="165.2" y1="599.6" x2="165.2" y2="602.2" stroke="#1a1a1a" stroke-width="1.15"/>
<line x1="182.0" y1="599.6" x2="182.0" y2="602.2" stroke="#1a1a1a" stroke-width="1.15"/>
<line x1="198.8" y1="599.6" x2="198.8" y2="602.2" stroke="#1a1a1a" stroke-width="1.15"/>
<line x1="215.6" y1="599.6" x2="215.6" y2="604.2" stroke="#1a1a1a" stroke-width="1.15"/>
<text x="215.6" y="618.2" class="tk" text-anchor="middle">10</text>
<line x1="232.4" y1="599.6" x2="232.4" y2="602.2" stroke="#1a1a1a" stroke-width="1.15"/>
<line x1="249.2" y1="599.6" x2="249.2" y2="602.2" stroke="#1a1a1a" stroke-width="1.15"/>
<text x="150.3" y="636.6" class="ti" text-anchor="middle" textLength="51.6" lengthAdjust="spacingAndGlyphs">Time (years)</text>
<text transform="translate(11.5,532.5) rotate(-90)" x="0" y="0" class="ti" text-anchor="middle" textLength="65.3" lengthAdjust="spacingAndGlyphs">Percent survival</text>
<polyline points="47.6,465.2 48.6,480.0 50.5,488.0 51.7,495.4 52.5,510.0 60.0,525.4 71.5,543.1 71.8,561.5 72.3,580.8 77.4,599.6" fill="none" stroke="#124c82" stroke-width="1.9" stroke-linejoin="round" stroke-dasharray="3.8 2.6"/>
<g fill="#124c82"><circle cx="47.6" cy="465.2" r="2.0"/><circle cx="48.6" cy="480.0" r="2.0"/><circle cx="50.5" cy="488.0" r="2.0"/><circle cx="51.7" cy="495.4" r="2.0"/><circle cx="52.5" cy="510.0" r="2.0"/><circle cx="60.0" cy="525.4" r="2.0"/><circle cx="71.5" cy="543.1" r="2.0"/><circle cx="71.8" cy="561.5" r="2.0"/><circle cx="72.3" cy="580.8" r="2.0"/><circle cx="77.4" cy="599.6" r="2.0"/></g>
<polyline points="47.6,465.2 49.4,469.2 50.9,472.3 53.2,474.6 54.0,480.0 54.8,486.2 55.5,493.1 56.3,500.0 59.4,503.8 64.0,506.2 65.5,509.2 68.6,513.8 70.2,517.7 71.7,521.5 73.8,526.2 74.3,530.0 76.9,533.8 79.2,537.7 81.5,538.8 85.7,543.1 93.8,543.1 97.7,543.4 100.5,549.2 100.8,556.2 109.7,561.8 110.8,568.3 132.4,568.3 158.5,576.1 198.9,576.1 201.8,576.1 210.4,576.1" fill="none" stroke="#c5032b" stroke-width="1.7" stroke-linejoin="round"/>
<g fill="#c5032b"><circle cx="47.6" cy="465.2" r="1.95"/><circle cx="48.2" cy="466.5" r="1.95"/><circle cx="48.8" cy="467.9" r="1.95"/><circle cx="49.4" cy="469.2" r="1.95"/><circle cx="50.1" cy="470.8" r="1.95"/><circle cx="50.9" cy="472.3" r="1.95"/><circle cx="52.0" cy="473.5" r="1.95"/><circle cx="53.2" cy="474.6" r="1.95"/><circle cx="53.4" cy="476.0" r="1.95"/><circle cx="53.6" cy="477.3" r="1.95"/><circle cx="53.8" cy="478.6" r="1.95"/><circle cx="54.0" cy="480.0" r="1.95"/><circle cx="54.2" cy="481.6" r="1.95"/><circle cx="54.4" cy="483.1" r="1.95"/><circle cx="54.6" cy="484.6" r="1.95"/><circle cx="54.8" cy="486.2" r="1.95"/><circle cx="54.9" cy="487.6" r="1.95"/><circle cx="55.1" cy="489.0" r="1.95"/><circle cx="55.2" cy="490.3" r="1.95"/><circle cx="55.4" cy="491.7" r="1.95"/><circle cx="55.5" cy="493.1" r="1.95"/><circle cx="55.7" cy="494.5" r="1.95"/><circle cx="55.8" cy="495.9" r="1.95"/><circle cx="56.0" cy="497.2" r="1.95"/><circle cx="56.1" cy="498.6" r="1.95"/><circle cx="56.3" cy="500.0" r="1.95"/><circle cx="59.4" cy="503.8" r="1.95"/><circle cx="64.0" cy="506.2" r="1.95"/><circle cx="65.5" cy="509.2" r="1.95"/><circle cx="68.6" cy="513.8" r="1.95"/><circle cx="70.2" cy="517.7" r="1.95"/><circle cx="71.7" cy="521.5" r="1.95"/><circle cx="73.8" cy="526.2" r="1.95"/><circle cx="74.3" cy="530.0" r="1.95"/><circle cx="76.9" cy="533.8" r="1.95"/><circle cx="79.2" cy="537.7" r="1.95"/><circle cx="81.5" cy="538.8" r="1.95"/><circle cx="85.7" cy="543.1" r="1.95"/><circle cx="93.8" cy="543.1" r="1.95"/><circle cx="97.7" cy="543.4" r="1.95"/><circle cx="100.5" cy="549.2" r="1.95"/><circle cx="100.8" cy="556.2" r="1.95"/><circle cx="109.7" cy="561.8" r="1.95"/><circle cx="110.8" cy="568.3" r="1.95"/><circle cx="132.4" cy="568.3" r="1.95"/><circle cx="158.5" cy="576.1" r="1.95"/><circle cx="198.9" cy="576.1" r="1.95"/><circle cx="201.8" cy="576.1" r="1.95"/><circle cx="210.4" cy="576.1" r="1.95"/></g>
<line x1="104.6" y1="467.3" x2="119.1" y2="467.3" stroke="#c5032b" stroke-width="1.6"/>
<circle cx="111.85" cy="467.3" r="1.8" fill="#c5032b"/>
<line x1="104.6" y1="483.3" x2="119.1" y2="483.3" stroke="#124c82" stroke-width="1.7" stroke-dasharray="3.8 2.6"/>
<circle cx="111.85" cy="483.3" r="2.0" fill="#124c82"/>
<text x="123.1" y="470.9" class="lg" textLength="119.1">Normal Karyotype (n = 50)</text>
<text x="123.1" y="486.9" class="lg" textLength="129.2">Abnormal Karyotype (n = 10)</text>
<text x="123.1" y="498.8" class="lg" textLength="34.7"><tspan font-style="italic">P</tspan> = .03</text>
<text x="1.9" y="452.5" class="pl">E</text>
<line x1="314.2" y1="461.4" x2="314.2" y2="604.2" stroke="#1a1a1a" stroke-width="1.25"/>
<line x1="309.9" y1="599.6" x2="519.2" y2="599.6" stroke="#1a1a1a" stroke-width="1.25"/>
<line x1="309.9" y1="599.6" x2="314.2" y2="599.6" stroke="#1a1a1a" stroke-width="1.25"/>
<text x="305.1" y="603.5" class="tk" text-anchor="end">0</text>
<line x1="309.9" y1="572.8" x2="314.2" y2="572.8" stroke="#1a1a1a" stroke-width="1.25"/>
<text x="305.1" y="576.6" class="tk" text-anchor="end">20</text>
<line x1="309.9" y1="545.9" x2="314.2" y2="545.9" stroke="#1a1a1a" stroke-width="1.25"/>
<text x="305.1" y="549.8" class="tk" text-anchor="end">40</text>
<line x1="309.9" y1="519.1" x2="314.2" y2="519.1" stroke="#1a1a1a" stroke-width="1.25"/>
<text x="305.1" y="522.9" class="tk" text-anchor="end">60</text>
<line x1="309.9" y1="492.2" x2="314.2" y2="492.2" stroke="#1a1a1a" stroke-width="1.25"/>
<text x="305.1" y="496.1" class="tk" text-anchor="end">80</text>
<line x1="309.9" y1="465.4" x2="314.2" y2="465.4" stroke="#1a1a1a" stroke-width="1.25"/>
<text x="305.1" y="469.2" class="tk" text-anchor="end">100</text>
<line x1="314.2" y1="599.6" x2="314.2" y2="604.2" stroke="#1a1a1a" stroke-width="1.15"/>
<text x="314.2" y="618.2" class="tk" text-anchor="middle">0</text>
<line x1="331.0" y1="599.6" x2="331.0" y2="602.2" stroke="#1a1a1a" stroke-width="1.15"/>
<line x1="347.8" y1="599.6" x2="347.8" y2="602.2" stroke="#1a1a1a" stroke-width="1.15"/>
<line x1="364.6" y1="599.6" x2="364.6" y2="602.2" stroke="#1a1a1a" stroke-width="1.15"/>
<line x1="381.4" y1="599.6" x2="381.4" y2="602.2" stroke="#1a1a1a" stroke-width="1.15"/>
<line x1="398.2" y1="599.6" x2="398.2" y2="604.2" stroke="#1a1a1a" stroke-width="1.15"/>
<text x="398.2" y="618.2" class="tk" text-anchor="middle">5</text>
<line x1="415.0" y1="599.6" x2="415.0" y2="602.2" stroke="#1a1a1a" stroke-width="1.15"/>
<line x1="431.8" y1="599.6" x2="431.8" y2="602.2" stroke="#1a1a1a" stroke-width="1.15"/>
<line x1="448.6" y1="599.6" x2="448.6" y2="602.2" stroke="#1a1a1a" stroke-width="1.15"/>
<line x1="465.4" y1="599.6" x2="465.4" y2="602.2" stroke="#1a1a1a" stroke-width="1.15"/>
<line x1="482.2" y1="599.6" x2="482.2" y2="604.2" stroke="#1a1a1a" stroke-width="1.15"/>
<text x="482.2" y="618.2" class="tk" text-anchor="middle">10</text>
<line x1="499.0" y1="599.6" x2="499.0" y2="602.2" stroke="#1a1a1a" stroke-width="1.15"/>
<line x1="515.8" y1="599.6" x2="515.8" y2="602.2" stroke="#1a1a1a" stroke-width="1.15"/>
<text x="416.9" y="636.6" class="ti" text-anchor="middle" textLength="51.6" lengthAdjust="spacingAndGlyphs">Time (years)</text>
<text transform="translate(278.1,532.5) rotate(-90)" x="0" y="0" class="ti" text-anchor="middle" textLength="65.3" lengthAdjust="spacingAndGlyphs">Percent survival</text>
<polyline points="314.2,465.2 314.9,484.6 317.7,503.8 320.0,522.3 320.8,542.3 321.2,561.2 339.2,580.8 343.1,599.6" fill="none" stroke="#124c82" stroke-width="1.9" stroke-linejoin="round" stroke-dasharray="3.8 2.6"/>
<g fill="#124c82"><circle cx="314.2" cy="465.2" r="2.0"/><circle cx="314.9" cy="484.6" r="2.0"/><circle cx="317.7" cy="503.8" r="2.0"/><circle cx="320.0" cy="522.3" r="2.0"/><circle cx="320.8" cy="542.3" r="2.0"/><circle cx="321.2" cy="561.2" r="2.0"/><circle cx="339.2" cy="580.8" r="2.0"/><circle cx="343.1" cy="599.6" r="2.0"/></g>
<polyline points="314.2,465.2 314.3,469.2 315.4,473.8 316.2,478.5 318.5,483.1 320.0,485.4 320.8,489.2 321.5,493.8 323.1,498.5 325.4,503.1 331.5,503.1 336.2,503.1 337.7,508.9 343.1,508.9 345.4,514.6 346.5,521.2 357.7,527.4 363.3,527.4 366.8,534.6 367.2,542.3 372.3,548.9 375.8,556.2 379.5,563.4 391.1,563.4 452.7,572.4 464.9,572.4 467.7,572.4 476.9,572.4" fill="none" stroke="#c5032b" stroke-width="1.7" stroke-linejoin="round"/>
<g fill="#c5032b"><circle cx="314.2" cy="465.2" r="1.95"/><circle cx="314.3" cy="469.2" r="1.95"/><circle cx="315.4" cy="473.8" r="1.95"/><circle cx="316.2" cy="478.5" r="1.95"/><circle cx="318.5" cy="483.1" r="1.95"/><circle cx="320.0" cy="485.4" r="1.95"/><circle cx="320.8" cy="489.2" r="1.95"/><circle cx="321.5" cy="493.8" r="1.95"/><circle cx="323.1" cy="498.5" r="1.95"/><circle cx="325.4" cy="503.1" r="1.95"/><circle cx="331.5" cy="503.1" r="1.95"/><circle cx="336.2" cy="503.1" r="1.95"/><circle cx="337.7" cy="508.9" r="1.95"/><circle cx="343.1" cy="508.9" r="1.95"/><circle cx="345.4" cy="514.6" r="1.95"/><circle cx="346.5" cy="521.2" r="1.95"/><circle cx="357.7" cy="527.4" r="1.95"/><circle cx="363.3" cy="527.4" r="1.95"/><circle cx="366.8" cy="534.6" r="1.95"/><circle cx="367.2" cy="542.3" r="1.95"/><circle cx="372.3" cy="548.9" r="1.95"/><circle cx="375.8" cy="556.2" r="1.95"/><circle cx="379.5" cy="563.4" r="1.95"/><circle cx="391.1" cy="563.4" r="1.95"/><circle cx="452.7" cy="572.4" r="1.95"/><circle cx="464.9" cy="572.4" r="1.95"/><circle cx="467.7" cy="572.4" r="1.95"/><circle cx="476.9" cy="572.4" r="1.95"/></g>
<line x1="367.7" y1="467.3" x2="381.5" y2="467.3" stroke="#c5032b" stroke-width="1.6"/>
<circle cx="374.6" cy="467.3" r="1.8" fill="#c5032b"/>
<line x1="367.7" y1="494.4" x2="381.5" y2="494.4" stroke="#124c82" stroke-width="1.7" stroke-dasharray="3.8 2.6"/>
<circle cx="374.6" cy="494.4" r="2.0" fill="#124c82"/>
<text x="386.8" y="470.9" class="lg" textLength="115.4">No Peripheral Blood MCs</text>
<text x="386.8" y="482.3" class="lg" textLength="36.3">(n = 78)</text>
<text x="389.8" y="498.0" class="lg" textLength="118.5">Any Peripheral Blood MCs</text>
<text x="386.8" y="510.3" class="lg" textLength="36.3">(n = 11)</text>
<text x="386.8" y="523.2" class="lg" textLength="47"><tspan font-style="italic">P</tspan> = .0013</text>
<text x="268.6" y="452.5" class="pl">F</text>
</svg>
</body></html>
